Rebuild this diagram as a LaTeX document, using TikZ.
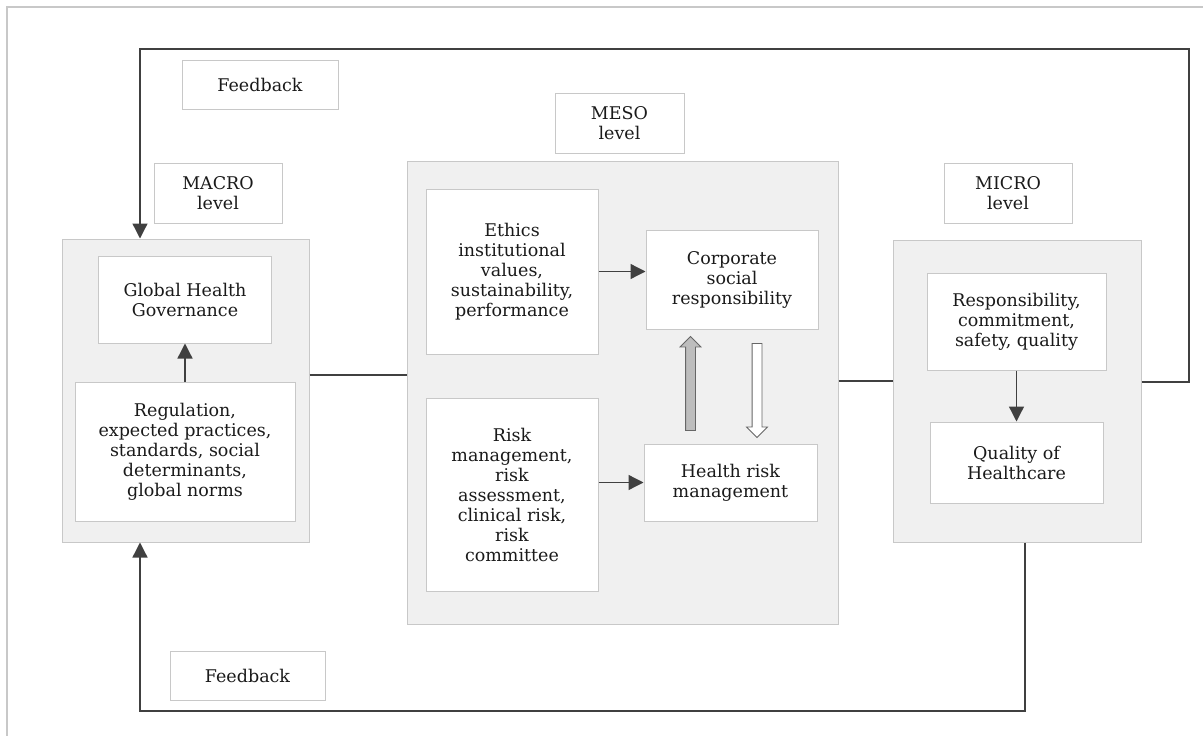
\documentclass[tikz,border=0pt]{standalone}
\usepackage{fontspec}
\setmainfont{DejaVu Serif}
\usetikzlibrary{positioning}
\usetikzlibrary{arrows.meta}
\usetikzlibrary{shapes,arrows}
\definecolor{panelgray}{HTML}{F0F0F0}
\definecolor{edgegray}{HTML}{C8C8C8}
\definecolor{linegray}{HTML}{404040}
\definecolor{textgray}{HTML}{1A1A1A}
\definecolor{upgray}{HTML}{BDBDBD}
\tikzstyle{panel} = [draw=edgegray, fill=panelgray, line width=1pt, inner sep=0pt]
\tikzstyle{block} = [draw=edgegray, fill=white, line width=1pt, align=center,
inner sep=0pt, text=textgray, font=\fontsize{17.5}{20}\selectfont]
\tikzstyle{line} = [draw=linegray, line width=1.3pt, -{Triangle[length=15pt,width=15pt]}]
\tikzstyle{link} = [draw=linegray, line width=1.3pt]
\tikzstyle{bigarrow} = [single arrow, draw=linegray!80, line width=0.8pt,
shape border rotate=90, minimum height=94pt, minimum width=0pt, inner sep=4.5pt,
single arrow head extend=5.5pt]

\begin{document}
\begin{tikzpicture}[x=1pt,y=-1pt]
        \useasboundingbox (0,0) rectangle (1203,736);
        \draw [edgegray, line width=1.5pt] (7,736) -- (7,7) -- (1203,7);
        %% Levels
        \node [panel, minimum width=247, minimum height=303] at (185.5,390.5) (macro) {};
        \node [panel, minimum width=431, minimum height=463] at (622.5,392.5) (meso) {};
        \node [panel, minimum width=248, minimum height=302] at (1017,391) (micro) {};
        \node [block, minimum width=128, minimum height=60] at (218,193) (macroLvl) {MACRO\\level};
        \node [block, minimum width=129, minimum height=60] at (619.5,123) (mesoLvl) {MESO\\level};
        \node [block, minimum width=128, minimum height=60] at (1008,193) (microLvl) {MICRO\\level};
        \node [block, minimum width=156, minimum height=49] at (260,84.5) (fbTop) {Feedback};
        \node [block, minimum width=155, minimum height=49] at (247.5,675.5) (fbBot) {Feedback};
        %% Macro
        \node [block, minimum width=173, minimum height=87] at (185,299.5) (ghg) {Global Health\\Governance};
        \node [block, minimum width=220, minimum height=139] at (185,451.5) (reg) {Regulation,\\expected practices,\\standards, social\\determinants,\\global norms};
        %% Meso
        \node [block, minimum width=172, minimum height=165] at (512,271.5) (ethics) {Ethics\\institutional\\values,\\sustainability,\\performance};
        \node [block, minimum width=172, minimum height=99] at (732,279.5) (csr) {Corporate\\social\\responsibility};
        \node [block, minimum width=172, minimum height=193] at (512,494.5) (risk) {Risk\\management,\\risk\\assessment,\\clinical risk,\\risk\\committee};
        \node [block, minimum width=173, minimum height=77] at (730.5,482.5) (hrm) {Health risk\\management};
        \node [bigarrow, fill=upgray, shape border rotate=90] at (690.5,386) (up) {};
        \node [bigarrow, fill=white, shape border rotate=270] at (757,388) (down) {};
        %% Micro
        \node [block, minimum width=179, minimum height=97] at (1016.5,321.5) (resp) {Responsibility,\\commitment,\\safety, quality};
        \node [block, minimum width=173, minimum height=81] at (1016.5,462.5) (qoh) {Quality of\\Healthcare};
        %% Loop corners
        \coordinate (loopT) at (1189,49);
        \coordinate (loopB) at (140,711);
        %% Arcs
        \path [line] (reg.north) -- (reg.north |- ghg.south);
        \path [line] (ethics.east) -- (ethics.east -| csr.west);
        \path [line] (risk.east |- hrm.west) -- (hrm.west);
        \path [line] (resp) -- (qoh);
        \path [link] (macro.east |- 0,375) -- (meso.west |- 0,375);
        \path [link] (meso.east |- 0,381) -- (micro.west |- 0,381);
        \path [line] (micro.east |- 0,382) -| (loopT) -| (loopB |- macro.north);
        \path [line] (micro.south -| 1025,0) |- (loopB) -- (loopB |- macro.south);
    \end{tikzpicture}
\end{document}
